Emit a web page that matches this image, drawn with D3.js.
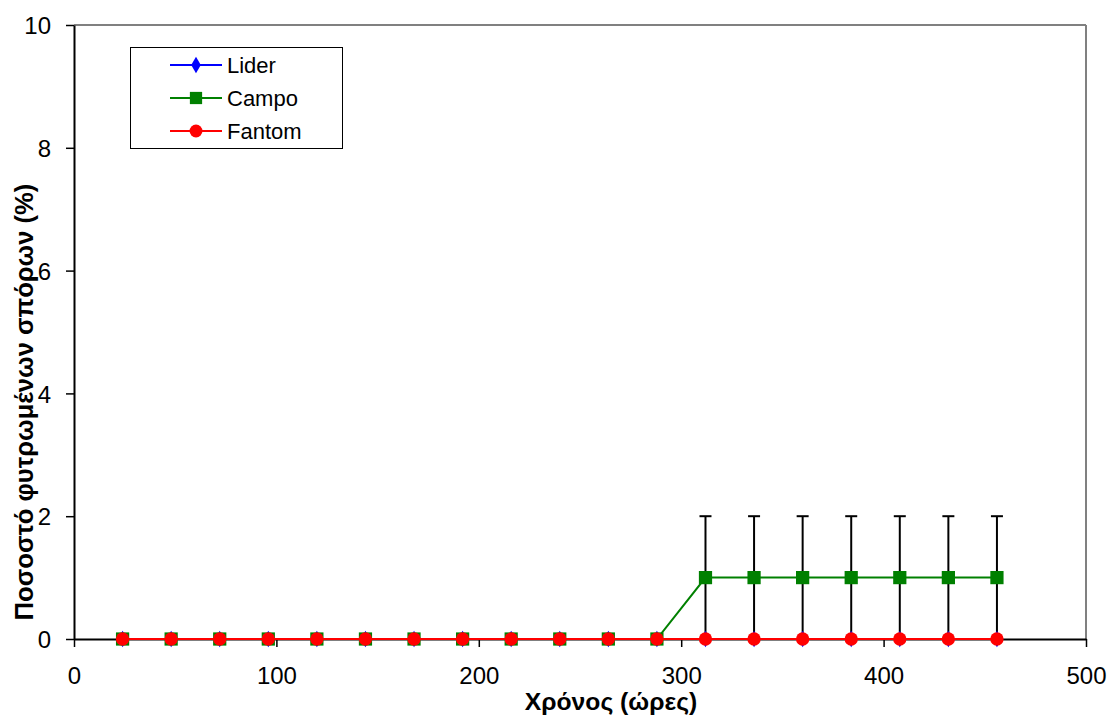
<!DOCTYPE html>
<html>
<head>
<meta charset="utf-8">
<script src="https://cdn.jsdelivr.net/npm/d3@7"></script>
<style>
  html, body { margin: 0; padding: 0; background: #fff; }
  svg { display: block; font-family: "Liberation Sans", Arial, sans-serif; }
</style>
</head>
<body>
<svg id="chart" width="1109" height="715"></svg>
<script>
// Sampling times (hours)
const hours = [24, 48, 72, 96, 120, 144, 168, 192, 216, 240, 264, 288, 312, 336, 360, 384, 408, 432, 456];
// Percentage of germinated seeds per variety
const lider  = [0, 0, 0, 0, 0, 0, 0, 0, 0, 0, 0, 0, 0, 0, 0, 0, 0, 0, 0];
const campo  = [0, 0, 0, 0, 0, 0, 0, 0, 0, 0, 0, 0, 1, 1, 1, 1, 1, 1, 1];
const fantom = [0, 0, 0, 0, 0, 0, 0, 0, 0, 0, 0, 0, 0, 0, 0, 0, 0, 0, 0];
// Standard error for Campo
const campoErr = [0, 0, 0, 0, 0, 0, 0, 0, 0, 0, 0, 0, 1, 1, 1, 1, 1, 1, 1];
const xTicks = [0, 100, 200, 300, 400, 500];
const yTicks = [0, 2, 4, 6, 8, 10];

const svg = d3.select("#chart");
const plotL = 74, plotR = 1086, plotT = 25, plotB = 639;

const x = d3.scaleLinear().domain([0, 500]).range([plotL, plotR]);
const y = d3.scaleLinear().domain([0, 10]).range([plotB, plotT]);

// Plot frame
svg.append("line").attr("x1", plotL).attr("x2", plotR).attr("y1", plotT).attr("y2", plotT)
  .attr("stroke", "#808080").attr("stroke-width", 2);
svg.append("line").attr("x1", plotR).attr("x2", plotR).attr("y1", plotT).attr("y2", plotB)
  .attr("stroke", "#808080").attr("stroke-width", 2);

// Axes
const xAxis = svg.append("g").attr("transform", `translate(0,${plotB})`)
  .call(d3.axisBottom(x).tickValues(xTicks).tickSize(8).tickSizeOuter(0).tickPadding(20));
const yAxis = svg.append("g").attr("transform", `translate(${plotL},0)`)
  .call(d3.axisLeft(y).tickValues(yTicks).tickSize(8).tickSizeOuter(0).tickPadding(15));
[xAxis, yAxis].forEach(g => {
  g.select(".domain").attr("stroke", "#000").attr("stroke-width", 2);
  g.selectAll(".tick line").attr("stroke", "#000").attr("stroke-width", 1.5);
  g.selectAll(".tick text").attr("fill", "#000")
    .style("font-family", "'Liberation Sans', Arial, sans-serif").style("font-size", "24px");
});
xAxis.selectAll(".tick text").attr("dy", "0.71em");
yAxis.selectAll(".tick text").attr("dy", "0.36em");

// Axis titles
svg.append("text").attr("x", 611).attr("y", 710)
  .attr("text-anchor", "middle").attr("font-weight", "bold").attr("font-size", "24.7px")
  .text("Χρόνος (ώρες)");
svg.append("text").attr("transform", "translate(33,402) rotate(-90)")
  .attr("text-anchor", "middle").attr("font-weight", "bold").attr("font-size", "25.6px")
  .text("Ποσοστό φυτρωμένων σπόρων (%)");

// Error bars for Campo
const errData = hours.map((h, i) => ({ h, v: campo[i], e: campoErr[i] })).filter(d => d.e > 0);
const eb = svg.append("g").attr("stroke", "#000").attr("stroke-width", 2);
errData.forEach(d => {
  eb.append("line").attr("x1", x(d.h)).attr("x2", x(d.h)).attr("y1", y(d.v - d.e)).attr("y2", y(d.v + d.e));
  eb.append("line").attr("x1", x(d.h) - 6).attr("x2", x(d.h) + 6).attr("y1", y(d.v + d.e)).attr("y2", y(d.v + d.e));
  eb.append("line").attr("x1", x(d.h) - 6).attr("x2", x(d.h) + 6).attr("y1", y(d.v - d.e)).attr("y2", y(d.v - d.e));
});

const line = d3.line().x(d => x(d[0])).y(d => y(d[1]));
const series = [
  { name: "Lider", values: lider, color: "#0000ff", symbol: d3.symbolDiamond, size: 80, legendSize: 80 },
  { name: "Campo", values: campo, color: "#008000", symbol: d3.symbolSquare, size: 175, legendSize: 150 },
  { name: "Fantom", values: fantom, color: "#ff0000", symbol: d3.symbolCircle, size: 140, legendSize: 130 }
];

series.forEach(s => {
  const pts = hours.map((h, i) => [h, s.values[i]]);
  svg.append("path").attr("d", line(pts)).attr("fill", "none")
    .attr("stroke", s.color).attr("stroke-width", 2);
  svg.append("g").selectAll("path").data(pts).join("path")
    .attr("transform", d => `translate(${x(d[0])},${y(d[1])})`)
    .attr("d", d3.symbol().type(s.symbol).size(s.size))
    .attr("fill", s.color);
});

// Legend
const lg = svg.append("g");
lg.append("rect").attr("x", 130.5).attr("y", 47.5).attr("width", 212).attr("height", 101)
  .attr("fill", "#fff").attr("stroke", "#000").attr("stroke-width", 1);
series.forEach((s, i) => {
  const cy = 65 + i * 33;
  lg.append("line").attr("x1", 170).attr("x2", 222).attr("y1", cy).attr("y2", cy)
    .attr("stroke", s.color).attr("stroke-width", 2);
  lg.append("path").attr("transform", `translate(196,${cy})`)
    .attr("d", d3.symbol().type(s.symbol).size(s.legendSize)).attr("fill", s.color);
  lg.append("text").attr("x", 227).attr("y", cy).attr("dy", "0.36em")
    .attr("font-size", "22px").attr("fill", "#000").text(s.name);
});
</script>
</body>
</html>
